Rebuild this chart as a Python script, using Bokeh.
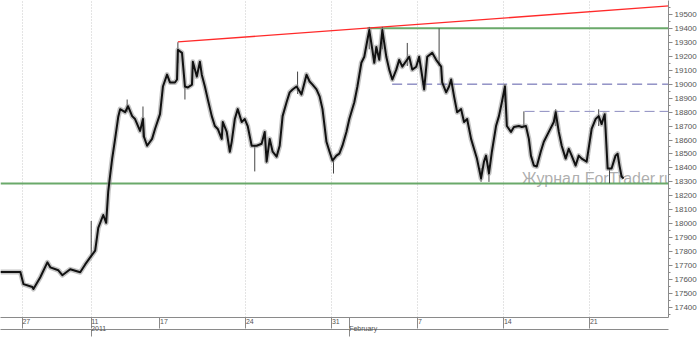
from bokeh.plotting import figure
from bokeh.models import Range1d, FixedTicker, SingleIntervalTicker, LinearAxis
from bokeh.core.properties import value
from bokeh.embed import file_html
from bokeh.resources import INLINE

# ---- data (x = trading-day index, 0 = 27 Dec 2010) ----
path_day = [-1.28, -0.12, 0.06, 0.58, 0.64, 1.04, 1.45, 1.62, 2.09, 2.32, 2.78, 3.36, 3.65, 3.94,
            4.23, 4.41, 4.70, 4.87, 4.99, 5.10, 5.22, 5.39, 5.57, 5.68, 5.97, 6.14, 6.38, 6.55,
            6.84, 7.01, 7.07, 7.25, 7.54, 7.71, 8.00, 8.17, 8.41, 8.58, 8.87, 8.99, 9.04, 9.28,
            9.45, 9.62, 9.86, 9.91, 10.14, 10.32, 10.43, 10.61, 10.78, 11.01, 11.19, 11.36, 11.59,
            11.65, 11.88, 12.06, 12.17, 12.35, 12.52, 12.75, 12.93, 13.10, 13.33, 13.62, 13.91,
            14.09, 14.20, 14.38, 14.55, 14.78, 14.96, 15.13, 15.36, 15.54, 15.71, 15.94, 16.23,
            16.52, 16.70, 16.87, 17.10, 17.28, 17.45, 17.57, 17.68, 17.86, 18.03, 18.26, 18.43,
            18.61, 18.84, 19.01, 19.30, 19.48, 19.71, 19.88, 20.06, 20.17, 20.35, 20.46, 20.58,
            20.75, 20.93, 21.16, 21.33, 21.51, 21.74, 21.91, 22.09, 22.49, 22.67, 22.90, 23.07,
            23.25, 23.36, 23.54, 23.83, 24.06, 24.35, 24.41, 24.64, 24.81, 24.93, 25.10, 25.28,
            25.51, 25.68, 25.86, 26.09, 26.26, 26.43, 26.67, 26.84, 26.96, 27.13, 27.30, 27.54,
            27.71, 27.88, 28.06, 28.17, 28.41, 28.58, 28.87, 29.04, 29.28, 29.45, 29.57, 29.74,
            29.91, 30.14, 30.32, 30.61, 30.90, 31.01, 31.19, 31.36, 31.59, 31.77, 31.94, 32.17,
            32.35, 32.52, 32.81, 33.10, 33.33, 33.51, 33.68, 33.86, 33.91, 34.03, 34.26, 34.49,
            34.61, 34.72, 34.84, 34.96]
path_price = [17655, 17655, 17568, 17547, 17533, 17617, 17724, 17688, 17667, 17632, 17674, 17653, 17709, 17759,
              17808, 17971, 18063, 18007, 18233, 18346, 18467, 18608, 18764, 18821, 18799, 18842, 18771, 18750,
              18665, 18750, 18622, 18559, 18608, 18679, 18785, 18983, 19068, 19012, 19012, 19033, 19245, 19224,
              18983, 18976, 18997, 19160, 19054, 19160, 19068, 18983, 18891, 18771, 18700, 18679, 18608,
              18729, 18658, 18516, 18587, 18750, 18821, 18729, 18750, 18700, 18559, 18559, 18573,
              18658, 18445, 18608, 18516, 18481, 18559, 18771, 18870, 18941, 18962, 18983, 18927,
              19068, 19019, 18997, 18962, 18913, 18821, 18700, 18587, 18516, 18453, 18488, 18502,
              18559, 18658, 18750, 18870, 18983, 19153, 19196, 19316, 19387, 19245, 19153, 19266,
              19174, 19387, 19196, 19104, 19033, 19104, 19174, 19125, 19196, 19104, 19125, 19196,
              19054, 18962, 19196, 19224, 19174, 19125, 19012, 18941, 18983, 19033, 18913, 18799,
              18821, 18729, 18750, 18608, 18537, 18467, 18325, 18445, 18488, 18361, 18516, 18700,
              18771, 18870, 18983, 18700, 18658, 18693, 18700, 18693, 18700, 18608, 18488, 18417,
              18410, 18516, 18587, 18658, 18729, 18799, 18658, 18559, 18467, 18537, 18488, 18417,
              18488, 18467, 18445, 18679, 18750, 18771, 18714, 18785, 18679, 18396, 18396, 18488,
              18502, 18417, 18339, 18325]

spike_day = [4.00, 6.09, 7.01, 9.04, 9.45, 13.51, 16.00, 18.09, 20.17, 20.93, 22.38, 24.23,
             26.67, 27.13, 28.06, 29.16, 31.01, 33.51, 34.14]
spike_high = [18020, 18890, 18840, 19300, 18990, 18560, 19090, 18450, 19410, 19410, 19295, 19400,
              18400, 18420, 19000, 18805, 18820, 18820, 18400]
spike_low = [17760, 18800, 18620, 19150, 18890, 18375, 18930, 18360, 19250, 19250, 19130, 19130,
             18300, 18300, 18870, 18700, 18700, 18700, 18290]

# drawn levels
trend_day = [9.04, 37.6]
trend_price = [19302, 19560]
resist_level = 19400
resist_start = 20.06
support_level = 18288
dash1_level = 19000
dash1_start = 21.5
dash2_level = 18805
dash2_start = 29.2
watermark = "Журнал ForTrader.ru"
watermark_day = 29.04
watermark_price = 18325

tick_days = [0, 4, 8, 13, 18, 19, 23, 28, 33]
tick_labels = ["27", "11", "17", "24", "31", "", "7", "14", "21"]
grid_days = [0, 4, 13, 18, 23, 28, 33]
month_days = [4, 19]
month_labels = ["2011", "February"]

FONT = "Liberation Sans"

p = figure(width=699, height=338, output_backend="svg", toolbar_location=None,
           x_range=Range1d(-1.275, 37.57), y_range=Range1d(17329, 19599),
           y_axis_location="right", min_border_left=0, min_border_top=0,
           min_border_right=0, min_border_bottom=0)
p.outline_line_color = None
p.background_fill_color = "white"
p.border_fill_color = "white"

# right price axis
ya = p.yaxis[0]
ya.ticker = SingleIntervalTicker(interval=100, num_minor_ticks=2)
ya.axis_line_color = "#8a8a8a"
ya.major_tick_line_color = "#8a8a8a"
ya.minor_tick_line_color = "#8a8a8a"
ya.major_tick_in = 0
ya.major_tick_out = 4
ya.minor_tick_in = 0
ya.minor_tick_out = 2
ya.major_label_standoff = 2
ya.major_label_text_font = FONT
ya.major_label_text_font_size = "8px"
ya.major_label_text_color = "#555555"

# bottom day axis
xa = p.xaxis[0]
xa.ticker = FixedTicker(ticks=tick_days)
xa.major_label_overrides = {d: l for d, l in zip(tick_days, tick_labels)}
xa.axis_line_color = "#8a8a8a"
xa.major_tick_line_color = "#8a8a8a"
xa.minor_tick_line_color = None
xa.major_tick_in = 0
xa.major_tick_out = 11
xa.major_label_standoff = -7
xa.major_label_orientation = -0.0001
xa.major_label_text_font = FONT
xa.major_label_text_font_size = "7px"
xa.major_label_text_color = "#555555"

# month/year axis
ma = LinearAxis(ticker=FixedTicker(ticks=month_days),
                major_label_overrides={d: l for d, l in zip(month_days, month_labels)})
ma.axis_line_color = "#8a8a8a"
ma.major_tick_line_color = "#8a8a8a"
ma.minor_tick_line_color = None
ma.major_tick_in = 0
ma.major_tick_out = 7
ma.major_label_standoff = -8
ma.major_label_orientation = -0.0001
ma.major_label_text_font = FONT
ma.major_label_text_font_size = "7px"
ma.major_label_text_color = "#555555"
p.add_layout(ma, "below")

p.ygrid.grid_line_color = None
p.xgrid.ticker = FixedTicker(ticks=grid_days)
p.xgrid.grid_line_color = "#c8c8c8"
p.xgrid.grid_line_dash = "1 2"

# watermark
p.text(x=[watermark_day], y=[watermark_price], text=[watermark], text_font=value(FONT),
       text_font_size="16px", text_color="#a0a0a0", text_alpha=0.85,
       text_align="left", text_baseline="alphabetic")

# levels
p.line([p.x_range.start, p.x_range.end], [support_level, support_level], line_color="#6aa96a", line_width=2)
p.line([resist_start, p.x_range.end], [resist_level, resist_level], line_color="#6aa96a", line_width=2)
p.line([dash1_start, p.x_range.end], [dash1_level, dash1_level], line_color="#5a5aa8", line_width=1, line_dash="10 5")
p.line([dash2_start, p.x_range.end], [dash2_level, dash2_level], line_color="#8c8cc0", line_width=1, line_dash="10 5")
p.line(trend_day, trend_price, line_color="#ff2a2a", line_width=1.3)

# price series
p.segment(x0=spike_day, y0=spike_low, x1=spike_day, y1=spike_high, line_color="#444444", line_width=1)
p.line(path_day, path_price, line_color="#8a8a8a", line_width=5, line_alpha=0.5, line_join="round")
p.line(path_day, path_price, line_color="#111111", line_width=2.0, line_join="round")

open("out.html", "w").write(file_html(p, INLINE))
